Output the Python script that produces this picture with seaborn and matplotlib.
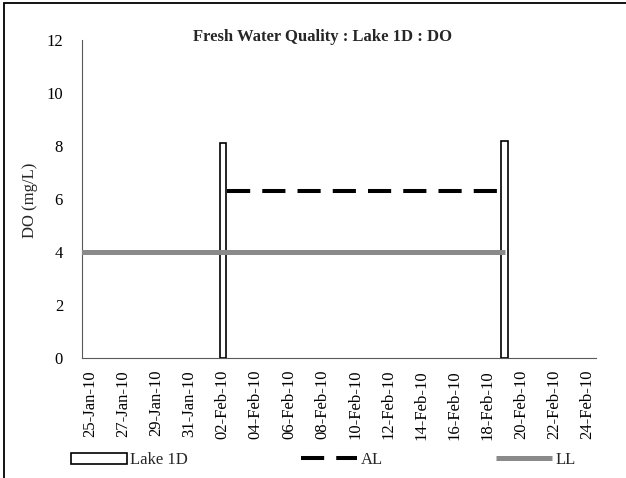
import matplotlib
matplotlib.use("Agg")
import matplotlib.pyplot as plt
import matplotlib.dates as mdates
import matplotlib.transforms as mtrans
from matplotlib.patches import Rectangle
from matplotlib.lines import Line2D
import seaborn as sns
import pandas as pd
import numpy as np

# ---- data ----
bar_dates = ["2010-02-02", "2010-02-19"]
bar_values = [8.1, 8.2]
al_dates = ["2010-02-02", "2010-02-19"]
al_values = [6.3, 6.3]
ll_dates = ["2010-01-24", "2010-02-19"]
ll_values = [4.0, 4.0]
x_start, x_end = "2010-01-25", "2010-02-25"
tick_dates = pd.date_range("2010-01-25", "2010-02-24", freq="2D")

title = "Fresh Water Quality : Lake 1D : DO"
ylabel = "DO (mg/L)"

sns.set_theme(style="white")
plt.rcParams["font.family"] = ["Liberation Serif", "DejaVu Serif"]

FS = 12
fig = plt.figure(figsize=(6.26, 4.78), dpi=100)
ax = fig.add_axes([82 / 626, 1 - 358 / 478, (596 - 82) / 626, (358 - 40) / 478])

def num(ds):
    return mdates.date2num(pd.to_datetime(ds).to_pydatetime()) + 0.5

bars = pd.DataFrame({"x": num(bar_dates), "y": bar_values})
al = pd.DataFrame({"x": num(al_dates), "y": al_values})
ll = pd.DataFrame({"x": num(ll_dates), "y": ll_values})

ax.bar(bars["x"], bars["y"], width=0.4, color="white", edgecolor="black",
       linewidth=1.2, zorder=3, label="Lake 1D")
sns.lineplot(data=ll, x="x", y="y", ax=ax, color="#8a8a8a", linewidth=3.6,
             zorder=4, label="LL", legend=False, solid_capstyle="butt")
sns.lineplot(data=al, x="x", y="y", ax=ax, color="black", linewidth=2.9,
             linestyle=(7.75, (5.75, 3)), zorder=5, label="AL", legend=False)

ax.set_xlim(mdates.date2num(pd.Timestamp(x_start).to_pydatetime()),
            mdates.date2num(pd.Timestamp(x_end).to_pydatetime()))
ax.set_ylim(0, 12)
ax.set_yticks(np.arange(0, 13, 2))
ax.set_xticks(mdates.date2num(tick_dates.to_pydatetime()))
ax.set_xticklabels([d.strftime("%d-%b-%y") for d in tick_dates], rotation=90,
                   ha="left")
shift = mtrans.ScaledTranslation(1.0 / 100, 0, fig.dpi_scale_trans)
for lab in ax.get_xticklabels():
    lab.set_transform(lab.get_transform() + shift)
ax.tick_params(axis="both", direction="out", length=3.6, width=0.8,
               color="#595959", labelsize=FS, labelcolor="black")
ax.tick_params(axis="y", pad=10)
ax.tick_params(axis="x", pad=5)
for s in ["top", "right"]:
    ax.spines[s].set_visible(False)
for s in ["left", "bottom"]:
    ax.spines[s].set_color("#595959")
    ax.spines[s].set_linewidth(0.8)
ax.set_xlabel("")
ax.set_ylabel(ylabel, fontsize=FS)
ax.yaxis.set_label_coords((37.5 - 82) / 514, 0.497)
ax.grid(False)
ax.set_facecolor("white")

fig.text(323 / 626, 1 - 37 / 478, title, ha="center", va="center",
         fontsize=FS, fontweight="bold")

handles = [
    Rectangle((0, 0), 1, 1, facecolor="white", edgecolor="black", linewidth=1.2),
    Line2D([], [], color="black", linewidth=2.9, linestyle=(0, (5.75, 3))),
    Line2D([], [], color="#8a8a8a", linewidth=3.6, solid_capstyle="butt"),
]
fig.legend(handles, ["Lake 1D", "AL", "LL"], loc="lower left",
           bbox_to_anchor=(71 / 626, 10 / 478), ncol=3, frameon=False,
           fontsize=FS, handlelength=3.36, handletextpad=0.2,
           columnspacing=6.8, borderpad=0, borderaxespad=0, handleheight=0.65)

fig.patches.append(Rectangle((4 / 626, -0.1), 1.2, 1.1 - 3 / 478, transform=fig.transFigure,
                             fill=False, edgecolor="black", linewidth=1.3))

fig.savefig("out.png", dpi=100, facecolor="white")
